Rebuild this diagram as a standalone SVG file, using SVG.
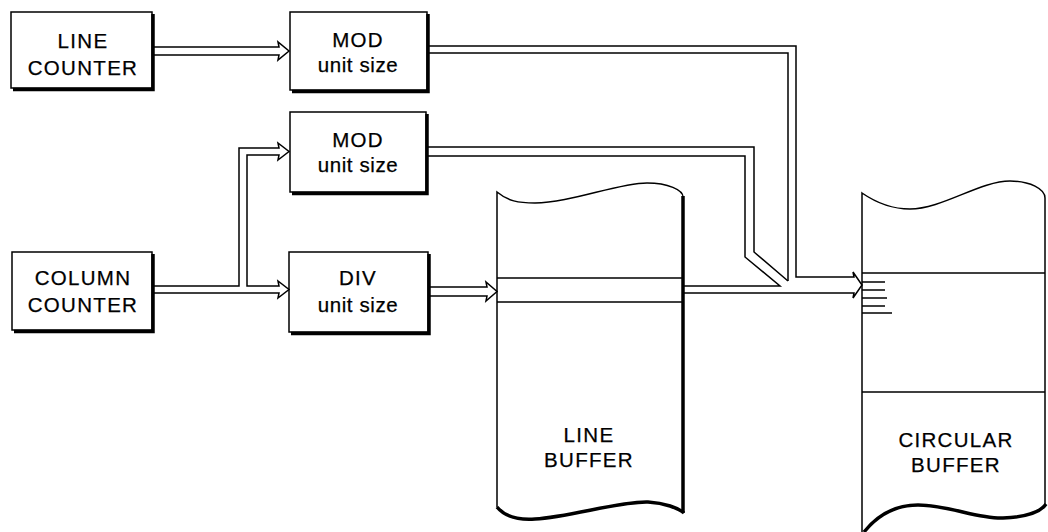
<svg xmlns="http://www.w3.org/2000/svg" width="1048" height="532" viewBox="0 0 1048 532">
<style>
.box{fill:#fff;stroke:#000;stroke-width:1.5}
.sh{fill:none;stroke:#000;stroke-width:3.5}
.ln{fill:none;stroke:#000;stroke-width:1.5;stroke-linejoin:miter}
.thk{fill:none;stroke:#000;stroke-width:3.5}
.t{font-family:"Liberation Sans",Arial,sans-serif;font-size:20.5px;letter-spacing:1.3px;text-anchor:middle;fill:#000;stroke:#000;stroke-width:0.25}
.u{font-family:"Liberation Sans",Arial,sans-serif;font-size:20.5px;letter-spacing:0.6px;text-anchor:middle;fill:#000;stroke:#000;stroke-width:0.25}
</style>
<rect width="1048" height="532" fill="#fff"/>

<g id="line-counter">
<rect class="box" x="11" y="12" width="141" height="76"/>
<path class="sh" d="M153,14 V89.5 H13"/>
<text class="t" x="83" y="48">LINE</text>
<text class="t" x="83" y="75">COUNTER</text>
</g>

<g id="mod1">
<rect class="box" x="290" y="12" width="137" height="78"/>
<path class="sh" d="M428,14 V91.5 H292"/>
<text class="t" x="358" y="47">MOD</text>
<text class="u" x="358" y="72">unit size</text>
</g>

<g id="mod2">
<rect class="box" x="290" y="112" width="136" height="80"/>
<path class="sh" d="M427,114 V193.5 H292"/>
<text class="t" x="358" y="147">MOD</text>
<text class="u" x="358" y="172">unit size</text>
</g>

<g id="column-counter">
<rect class="box" x="12" y="252" width="140" height="78"/>
<path class="sh" d="M153,254 V331.5 H14"/>
<text class="t" x="83" y="285">COLUMN</text>
<text class="t" x="83" y="312">COUNTER</text>
</g>

<g id="div">
<rect class="box" x="289" y="252" width="139" height="80"/>
<path class="sh" d="M429,254 V333.5 H291"/>
<text class="t" x="358" y="285">DIV</text>
<text class="u" x="358" y="312">unit size</text>
</g>

<g id="line-buffer">
<path class="ln" d="M497,507 V192 C508,201 518,203 535,203 C570,203 618,183 647,183 C668,183 683,190 683,197" fill="#fff"/>
<path class="thk" d="M683,196 V513"/>
<path class="thk" d="M497,507 C505,517 520,520 535,519 C570,517 620,501 648,502 C665,503 678,508 684,513"/>
<path class="ln" d="M497,278 H683 M497,302 H683"/>
<text class="t" x="589" y="442">LINE</text>
<text class="t" x="589" y="467">BUFFER</text>
</g>

<g id="circular-buffer">
<path class="ln" d="M862,532 V193 C878,204 892,209 910,209 C942,209 980,181 1010,181 C1030,181 1045,189 1045,198 V506"/>
<path class="thk" d="M864,532 C880,512 900,505 918,505 C948,505 978,519 1003,518 C1025,517 1040,513 1046,504"/>
<path class="ln" d="M862,273 H1045 M862,392 H1045"/>
<path class="ln" d="M862,282 H885 M862,290 H885 M862,298 H887 M862,306 H885 M862,313 H892" stroke-width="1.2"/>
<text class="t" x="956" y="447">CIRCULAR</text>
<text class="t" x="956" y="472">BUFFER</text>
</g>

<g id="connectors">
<path class="ln" d="M153,47 H279 L278,42 L289,51 L278,60 L279,55 H153"/>
<path class="ln" d="M153,286 H239 V148 H279 L278,143 L289,151.5 L278,160 L279,155 H247 V286 H279 L278,281 L289,289.5 L278,298 L279,293 H153"/>
<path class="ln" d="M429,287 H487 L486,282 L497,291.5 L486,301 L487,296 H429"/>
<path class="ln" d="M429,46 H796 V277 H854 L853,272 L862,285 L853,298 L854,293 H684"/>
<path class="ln" d="M429,53 H788 V281"/>
<path class="ln" d="M428,147 H754 V252 L788,281"/>
<path class="ln" d="M428,156 H745 V257 L780,286 H684"/>
</g>
</svg>
